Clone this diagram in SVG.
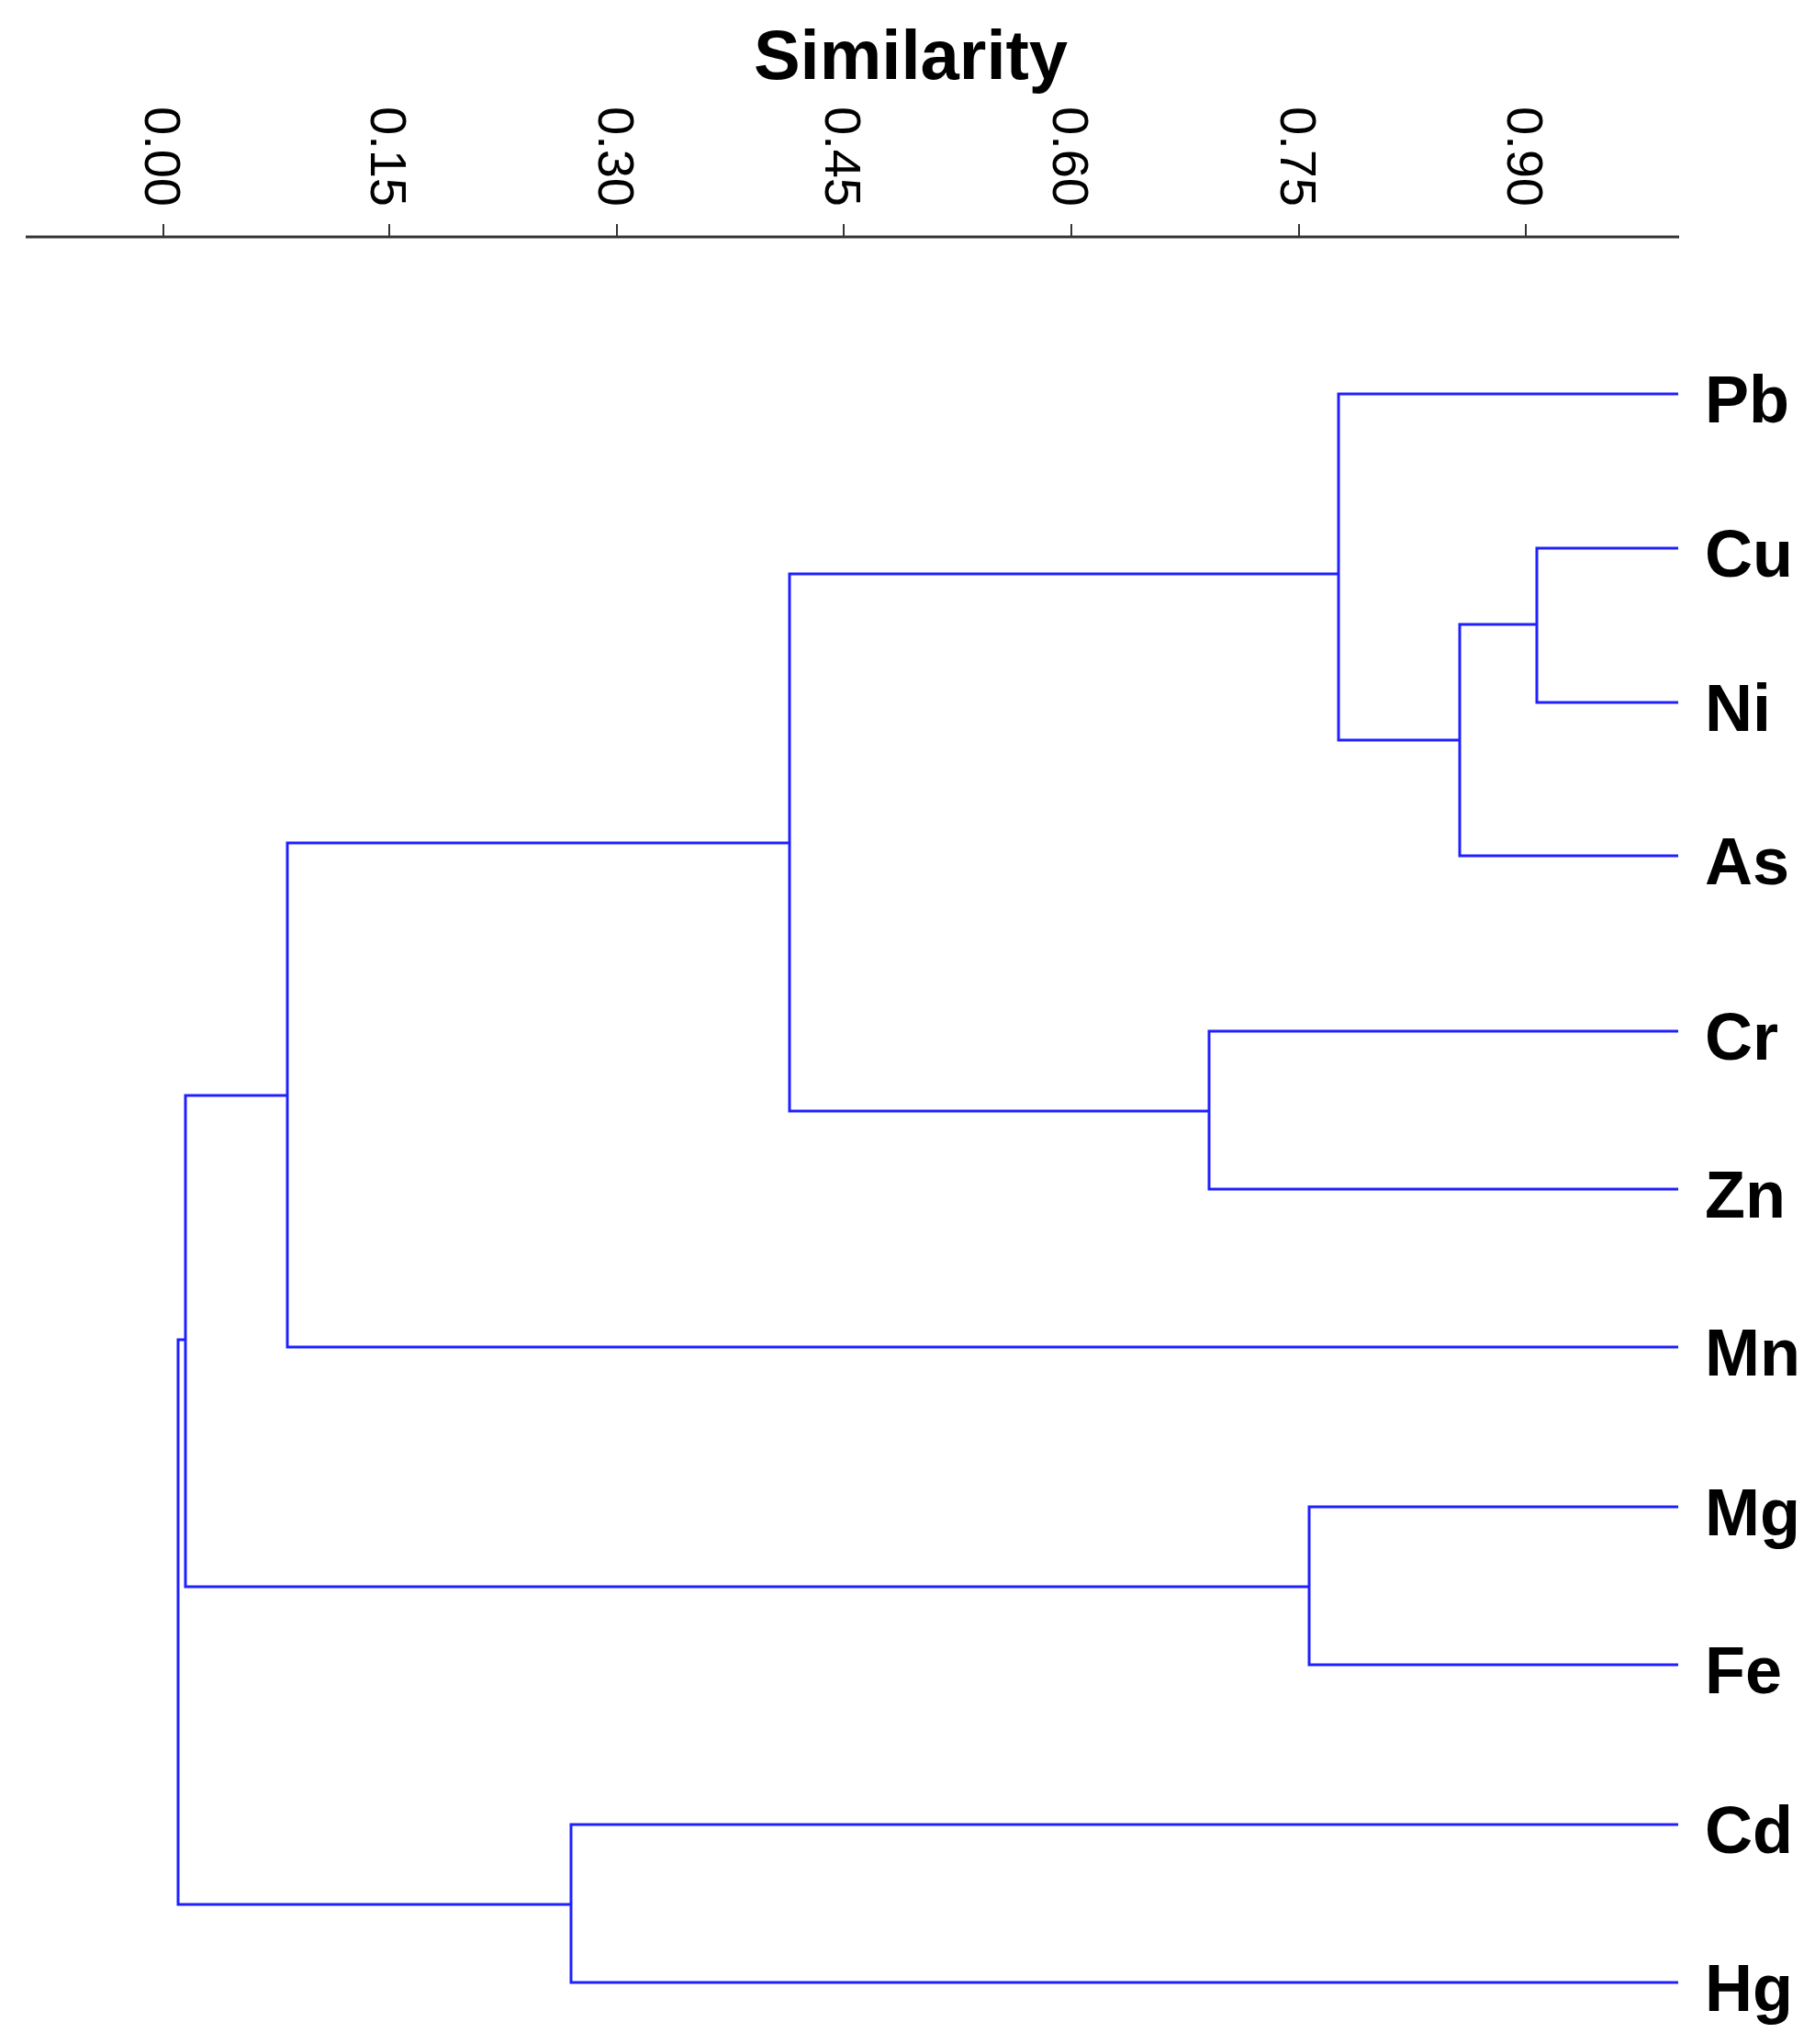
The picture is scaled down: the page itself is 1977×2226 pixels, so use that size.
<svg xmlns="http://www.w3.org/2000/svg" width="1977" height="2226" viewBox="0 0 1977 2226">
<style>
.b{fill:none;stroke:#2020ff;stroke-width:3}
.lab{font-family:"Liberation Sans",Arial,sans-serif;font-weight:bold;font-size:72px;fill:#000}
.tk{font-family:"Liberation Sans",Arial,sans-serif;font-size:56px;fill:#000}
.ax{stroke:#333;stroke-width:3;fill:none}
</style>
<rect width="1977" height="2226" fill="#fff"/>
<g id="axis">
<text x="992" y="86" text-anchor="middle" font-family="Liberation Sans, Arial, sans-serif" font-weight="bold" font-size="76">Similarity</text>
<path class="ax" d="M28 258H1829"/>
<path class="ax" style="stroke-width:2" d="M178 244V258M424 244V258M672 244V258M919 244V258M1167 244V258M1415 244V258M1662 244V258"/>
<g class="tk">
<text transform="translate(158,116) rotate(90)">0.00</text>
<text transform="translate(404,116) rotate(90)">0.15</text>
<text transform="translate(652,116) rotate(90)">0.30</text>
<text transform="translate(899,116) rotate(90)">0.45</text>
<text transform="translate(1147,116) rotate(90)">0.60</text>
<text transform="translate(1395,116) rotate(90)">0.75</text>
<text transform="translate(1642,116) rotate(90)">0.90</text>
</g>
</g>
<g id="connectors">
<path class="b" d="M1828 429H1458V806H1590"/>
<path class="b" d="M1828 597H1674V765H1828"/>
<path class="b" d="M1674 680H1590V932H1828"/>
<path class="b" d="M1458 625H860V1210H1317"/>
<path class="b" d="M1828 1123H1317V1295H1828"/>
<path class="b" d="M860 918H313V1467H1828"/>
<path class="b" d="M1828 1641H1426V1813H1828"/>
<path class="b" d="M313 1193H202V1728H1426"/>
<path class="b" d="M202 1459H194V2074H622"/>
<path class="b" d="M1828 1987H622V2159H1828"/>
</g>
<g id="Pb"><text class="lab" x="1857" y="460">Pb</text></g>
<g id="Cu"><text class="lab" x="1857" y="628">Cu</text></g>
<g id="Ni"><text class="lab" x="1857" y="796">Ni</text></g>
<g id="As"><text class="lab" x="1857" y="963">As</text></g>
<g id="Cr"><text class="lab" x="1857" y="1154">Cr</text></g>
<g id="Zn"><text class="lab" x="1857" y="1326">Zn</text></g>
<g id="Mn"><text class="lab" x="1857" y="1498">Mn</text></g>
<g id="Mg"><text class="lab" x="1857" y="1672">Mg</text></g>
<g id="Fe"><text class="lab" x="1857" y="1844">Fe</text></g>
<g id="Cd"><text class="lab" x="1857" y="2018">Cd</text></g>
<g id="Hg"><text class="lab" x="1857" y="2190">Hg</text></g>
</svg>
